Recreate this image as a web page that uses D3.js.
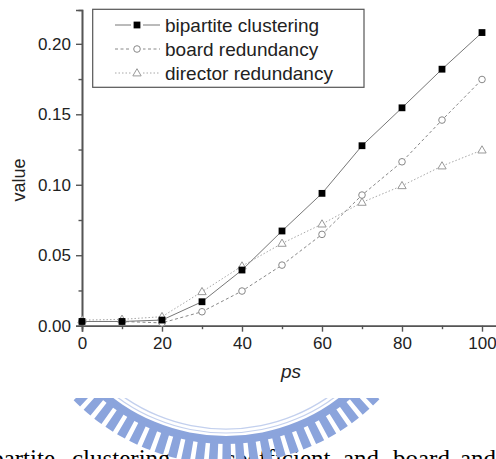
<!DOCTYPE html>
<html>
<head>
<meta charset="utf-8">
<script src="https://cdn.jsdelivr.net/npm/d3@7"></script>
<style>
  body { margin: 0; background: #fff; }
  svg { display: block; }
</style>
</head>
<body>
<div id="chart"></div>
<script>
const psValues = [0, 10, 20, 30, 40, 50, 60, 70, 80, 90, 100];
const bipartite = [0.003, 0.003, 0.004, 0.017, 0.0395, 0.0672, 0.0939, 0.1277, 0.1546, 0.182, 0.208];
const boardRed = [0.003, 0.003, 0.002, 0.0099, 0.0246, 0.043, 0.0648, 0.0927, 0.1163, 0.1459, 0.1747];
const directorRed = [0.004, 0.0045, 0.0064, 0.0241, 0.0423, 0.0584, 0.0721, 0.0875, 0.0993, 0.1133, 0.1246];
const seriesNames = ["bipartite clustering", "board redundancy", "director redundancy"];
const xTicks = [0, 20, 40, 60, 80, 100];
const yTicks = [0, 0.05, 0.10, 0.15, 0.20];
const captionWords = ["bipartite", "clustering", "coefficient", "and", "board", "and"];

const width = 496, height = 459;

const svg = d3.select("#chart")
    .append("svg")
    .attr("width", width)
    .attr("height", height)
    .style("font-family", "'Liberation Sans', Arial, sans-serif");

svg.append("rect").attr("width", width).attr("height", height).attr("fill", "#fff");

const x = d3.scaleLinear().domain([0, 104]).range([82, 498]);
const y = d3.scaleLinear().domain([0, 0.224]).range([325.7, 10]);

// caption line of the page below, only its top edge shows
const wordX = [{ x: 55, anchor: "end" }, { x: 72 }, { x: 224 }, { x: 343 }, { x: 393 }, { x: 460 }];
svg.append("g")
    .style("font-family", "'Liberation Serif', 'Times New Roman', serif")
    .style("font-size", "25px")
    .selectAll("text")
    .data(captionWords)
    .enter()
    .append("text")
    .attr("x", (d, i) => wordX[i].x)
    .attr("y", 467)
    .attr("text-anchor", (d, i) => wordX[i].anchor || "start")
    .attr("fill", "#000")
    .text(d => d);

// watermark ring (only lower part visible)
svg.append("clipPath").attr("id", "wmclip")
    .append("rect").attr("x", 0).attr("y", 398).attr("width", width).attr("height", 61);
const wmG = svg.append("g").attr("clip-path", "url(#wmclip)")
    .append("g").attr("transform", "translate(226,250)");
const arcGen = d3.arc();
const wmBlue = "#8ba4dc";
wmG.append("path")
    .attr("d", arcGen({ innerRadius: 186, outerRadius: 194, startAngle: Math.PI / 2, endAngle: Math.PI * 1.5 }))
    .attr("fill", wmBlue);
const teeth = d3.range(91, 271, 3.7);
wmG.selectAll(".tooth")
    .data(teeth)
    .enter()
    .append("path")
    .attr("d", a => arcGen({
        innerRadius: 190, outerRadius: 214,
        startAngle: (a - 1.2) * Math.PI / 180, endAngle: (a + 1.2) * Math.PI / 180
    }))
    .attr("fill", wmBlue);
[179, 183].forEach(r => {
    wmG.append("path")
        .attr("d", arcGen({ innerRadius: r - 0.6, outerRadius: r + 0.6, startAngle: Math.PI / 2, endAngle: Math.PI * 1.5 }))
        .attr("fill", "#c3d0ee");
});

// axes
const axisColor = "#555";
const yAxis = svg.append("g")
    .attr("transform", `translate(${x(0)},0)`)
    .call(d3.axisLeft(y).tickValues(yTicks).tickFormat(d3.format(".2f")).tickSize(6).tickPadding(5));
const yMinor = svg.append("g")
    .attr("transform", `translate(${x(0)},0)`)
    .call(d3.axisLeft(y).tickValues([0.025, 0.075, 0.125, 0.175]).tickFormat("").tickSize(3.5));
const xAxis = svg.append("g")
    .attr("transform", `translate(0,${y(0)})`)
    .call(d3.axisBottom(x).tickValues(xTicks).tickSize(6).tickPadding(5));
const xMinor = svg.append("g")
    .attr("transform", `translate(0,${y(0)})`)
    .call(d3.axisBottom(x).tickValues([10, 30, 50, 70, 90]).tickFormat("").tickSize(3.5));

[yAxis, yMinor, xAxis, xMinor].forEach(g => {
    g.select(".domain").attr("stroke", axisColor).attr("stroke-width", 1.6);
    g.selectAll(".tick line").attr("stroke", axisColor).attr("stroke-width", 1.4);
    g.selectAll("text")
        .style("font-family", "'Liberation Sans', Arial, sans-serif")
        .style("font-size", "17px")
        .attr("fill", "#222");
});

svg.append("text")
    .attr("transform", "rotate(-90)")
    .attr("x", -180)
    .attr("y", 25)
    .attr("text-anchor", "middle")
    .style("font-size", "18px")
    .attr("fill", "#222")
    .text("value");

svg.append("text")
    .attr("x", 291)
    .attr("y", 378)
    .attr("text-anchor", "middle")
    .style("font-size", "19px")
    .style("font-style", "italic")
    .attr("fill", "#222")
    .text("ps");

// series
const series = [
    { name: seriesNames[2], values: directorRed, stroke: "#a8a8a8", dash: "1.5,2", marker: "tri", mstroke: "#999" },
    { name: seriesNames[1], values: boardRed, stroke: "#888", dash: "3,2.5", marker: "circle", mstroke: "#888" },
    { name: seriesNames[0], values: bipartite, stroke: "#777", dash: null, marker: "square", mstroke: "#000" }
];

const line = d3.line().x(d => x(d[0])).y(d => y(d[1]));
const symTri = d3.symbol().type(d3.symbolTriangle).size(30);

function drawMarker(g, s, cx, cy) {
    if (s.marker === "square") {
        g.append("rect")
            .attr("x", cx - 3.4).attr("y", cy - 3.4)
            .attr("width", 6.8).attr("height", 6.8)
            .attr("fill", "#000");
    } else if (s.marker === "circle") {
        g.append("circle")
            .attr("cx", cx).attr("cy", cy).attr("r", 3.3)
            .attr("fill", "#fff").attr("stroke", s.mstroke).attr("stroke-width", 1);
    } else {
        g.append("path")
            .attr("d", symTri())
            .attr("transform", `translate(${cx},${cy + 0.5})`)
            .attr("fill", "#fff").attr("stroke", s.mstroke).attr("stroke-width", 1);
    }
}

series.forEach(s => {
    const pts = psValues.map((p, i) => [p, s.values[i]]);
    svg.append("path")
        .attr("d", line(pts))
        .attr("fill", "none")
        .attr("stroke", s.stroke)
        .attr("stroke-width", 1)
        .attr("stroke-dasharray", s.dash);
});
series.forEach(s => {
    const g = svg.append("g");
    psValues.forEach((p, i) => drawMarker(g, s, x(p), y(s.values[i])));
});

// legend
const legend = svg.append("g");
legend.append("rect")
    .attr("x", 92.7).attr("y", 9.3)
    .attr("width", 271.3).attr("height", 78)
    .attr("fill", "#fff")
    .attr("stroke", "#555")
    .attr("stroke-width", 1.2);

const legendOrder = [series[2], series[1], series[0]];
legendOrder.forEach((s, i) => {
    const ly = 25 + i * 24;
    const g = legend.append("g");
    g.append("line")
        .attr("x1", 115).attr("x2", 160)
        .attr("y1", ly).attr("y2", ly)
        .attr("stroke", s.stroke)
        .attr("stroke-width", 1)
        .attr("stroke-dasharray", s.dash);
    g.append("rect").attr("x", 131).attr("y", ly - 5).attr("width", 12).attr("height", 10).attr("fill", "#fff");
    drawMarker(g, s, 137, ly);
    g.append("text")
        .attr("x", 165)
        .attr("y", ly)
        .attr("dy", "0.36em")
        .style("font-size", "19px")
        .attr("fill", "#222")
        .text(s.name);
});
</script>
</body>
</html>
